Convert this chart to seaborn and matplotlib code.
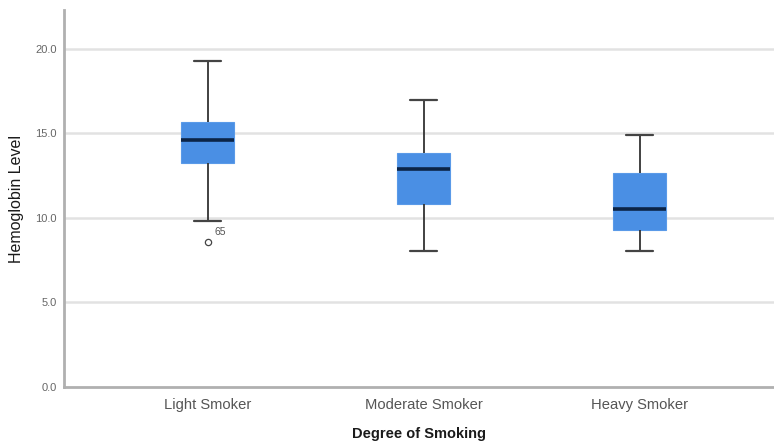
import matplotlib
matplotlib.use("Agg")
import matplotlib.pyplot as plt
import seaborn as sns
import pandas as pd

categories = ["Light Smoker", "Moderate Smoker", "Heavy Smoker"]
light = [8.58, 9.82, 13.25, 13.25, 14.6, 15.68, 15.68, 19.3, 19.3]
moderate = [8.05, 10.83, 12.9, 13.85, 16.98]
heavy = [8.05, 9.29, 10.53, 12.66, 14.9]
outlier_label = "65"
yticks = [0.0, 5.0, 10.0, 15.0, 20.0]

rows = []
for cat, vals in zip(categories, [light, moderate, heavy]):
    for v in vals:
        rows.append({"Degree of Smoking": cat, "Hemoglobin Level": v})
df = pd.DataFrame(rows)

sns.set_style("white")
plt.rcParams["font.family"] = ["Liberation Sans", "DejaVu Sans"]

fig = plt.figure(figsize=(7.74, 4.42), dpi=100)
ax = fig.add_axes([0.0827, 0.1244, 0.917, 0.853])

for y in yticks[1:]:
    ax.axhline(y, color="#e2e2e2", lw=1.8, zorder=0)

sns.boxplot(
    data=df, x="Degree of Smoking", y="Hemoglobin Level", order=categories,
    width=0.245, color="#4a8fe4", saturation=1, whis=1.5, ax=ax,
    linewidth=1.2,
    boxprops=dict(facecolor="#4a8fe4", edgecolor="#5a9ae8", linewidth=0.8),
    medianprops=dict(color="#0b2447", linewidth=2.6),
    whiskerprops=dict(color="#333333", linewidth=1.3),
    capprops=dict(color="#444444", linewidth=1.6),
    capwidths=0.125,
    flierprops=dict(marker="o", markersize=4.5, markerfacecolor="white",
                    markeredgecolor="#444444", markeredgewidth=0.9),
)

# outlier label
ax.text(0.03, min(light) + 0.3, outlier_label, fontsize=7.5, color="#555555",
        ha="left", va="bottom")

ax.set_ylim(0, 22.3)
ax.set_xlim(-0.664, 2.62)
ax.set_yticks(yticks)
ax.set_yticklabels([f"{t:.1f}" for t in yticks], fontsize=8, color="#666666")
ax.tick_params(axis="x", labelsize=10.6, colors="#555555", length=0, pad=8)
ax.tick_params(axis="y", length=0, pad=5)

for s in ["top", "right"]:
    ax.spines[s].set_visible(False)
for s in ["left", "bottom"]:
    ax.spines[s].set_color("#b0b0b0")
    ax.spines[s].set_linewidth(2)

ax.set_xlabel("Degree of Smoking", fontsize=10.5, fontweight="bold", color="#1a1a1a", labelpad=11)
ax.set_ylabel("Hemoglobin Level", fontsize=11.5, color="#1a1a1a")
ax.yaxis.set_label_coords(-0.056, 0.5)

fig.savefig("out.png", dpi=100)
